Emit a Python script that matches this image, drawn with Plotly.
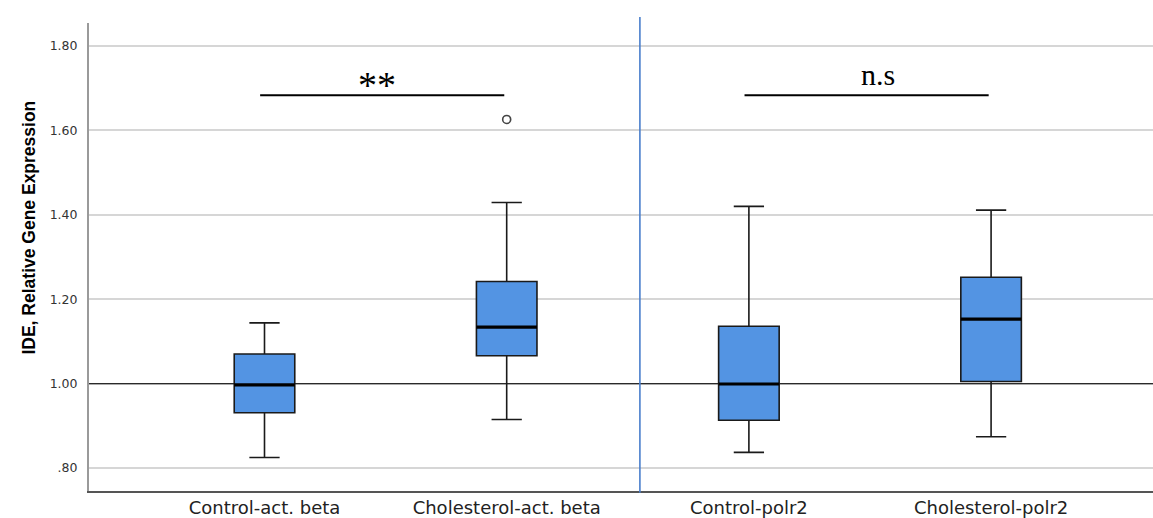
import plotly.graph_objects as go

# IDE relative expression, one box per group (precomputed summary statistics)
categories = ["Control-act. beta", "Cholesterol-act. beta", "Control-polr2", "Cholesterol-polr2"]
lower_whisker = [0.825, 0.915, 0.837, 0.874]
q1 = [0.931, 1.066, 0.913, 1.005]
median = [0.997, 1.134, 0.999, 1.153]
q3 = [1.070, 1.242, 1.136, 1.252]
upper_whisker = [1.144, 1.429, 1.420, 1.411]

outlier_group = [1]
outlier_value = [1.626]

y_ticks = [0.80, 1.00, 1.20, 1.40, 1.60, 1.80]
y_tick_text = [".80", "1.00", "1.20", "1.40", "1.60", "1.80"]

# significance brackets: (left group, right group, label)
comparisons = [(0, 1, "**"), (2, 3, "n.s")]
bracket_level = 1.683

positions = list(range(len(categories)))
box_width = 0.25
x_range = [-0.7246, 3.6685]

fig = go.Figure()

fig.add_trace(go.Box(
    x=positions,
    q1=q1, median=median, q3=q3,
    lowerfence=lower_whisker, upperfence=upper_whisker,
    width=box_width,
    whiskerwidth=0.5,
    fillcolor="#5394e3",
    line=dict(color="#1a1a1a", width=1.6),
    boxpoints=False,
    showlegend=False,
))

# heavier median bars drawn over each box
mx, my = [], []
for p, m in zip(positions, median):
    mx += [p - box_width / 2, p + box_width / 2, None]
    my += [m, m, None]
fig.add_trace(go.Scatter(
    x=mx, y=my, mode="lines",
    line=dict(color="#000000", width=3.2),
    showlegend=False, hoverinfo="skip",
))

# outliers
fig.add_trace(go.Scatter(
    x=[positions[g] for g in outlier_group], y=outlier_value,
    mode="markers",
    marker=dict(symbol="circle-open", size=8, color="#444444", line=dict(width=1.6)),
    showlegend=False,
))

# reference line at 1.00
fig.add_shape(type="line", xref="x", yref="y", x0=x_range[0], x1=x_range[1], y0=1.0, y1=1.0,
              line=dict(color="#2a2a2a", width=1.3), layer="between")

# divider between the two reference-gene panels
fig.add_shape(type="line", xref="x", yref="paper", x0=1.55, x1=1.55, y0=-0.004, y1=1.013,
              line=dict(color="#4a7fcc", width=1.6), layer="above")

label_offsets = {"**": -0.036, "n.s": 0.033}
for a, b, label in comparisons:
    fig.add_shape(type="line", xref="x", yref="y",
                  x0=positions[a] - 0.018, x1=positions[b] - 0.01,
                  y0=bracket_level, y1=bracket_level,
                  line=dict(color="#000000", width=2))
    fig.add_annotation(
        x=(positions[a] + positions[b]) / 2 + label_offsets[label],
        y=bracket_level, yref="y", xref="x",
        text=label, showarrow=False,
        yanchor="bottom", yshift=2 if label == "n.s" else -13,
        font=dict(family="Liberation Serif", size=30 if label == "n.s" else 38, color="#000000"),
    )

# rotated y title
fig.add_annotation(
    xref="paper", yref="paper", x=-0.0573, y=0.563,
    text="<b>IDE, Relative Gene Expression</b>", textangle=-90,
    showarrow=False, xanchor="center", yanchor="middle",
    font=dict(family="Liberation Sans", size=17.5, color="#000000"),
)

fig.update_layout(
    width=1153, height=518,
    margin=dict(l=89, r=0, t=23, b=27, autoexpand=False),
    plot_bgcolor="#ffffff", paper_bgcolor="#ffffff",
    showlegend=False,
    xaxis=dict(
        range=x_range, automargin=False,
        tickmode="array", tickvals=positions, ticktext=categories,
        showgrid=False, zeroline=False,
        showline=True, linecolor="#555555", linewidth=1.5,
        ticks="", ticklabelstandoff=0,
        tickfont=dict(family="DejaVu Sans", size=18, color="#222222"),
    ),
    yaxis=dict(
        range=[0.7455, 1.8545], automargin=False,
        tickmode="array", tickvals=y_ticks, ticktext=y_tick_text,
        showgrid=True, gridcolor="#d6d6d6", gridwidth=1.5,
        zeroline=False,
        showline=True, linecolor="#9a9a9a", linewidth=2,
        ticks="", ticklabelstandoff=7,
        tickfont=dict(family="DejaVu Sans", size=12.5, color="#333333"),
    ),
)

fig.write_html("out.html")
